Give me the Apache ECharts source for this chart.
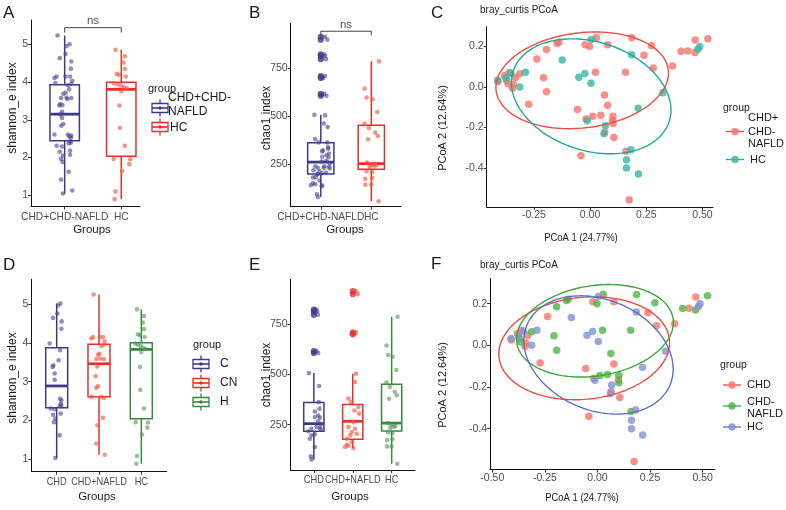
<!DOCTYPE html>
<html><head><meta charset="utf-8">
<script src="https://cdn.jsdelivr.net/npm/echarts@6/dist/echarts.min.js"></script>
<style>html,body{margin:0;padding:0;background:#fff}#c{width:786px;height:510px}</style>
</head><body><div id="c"></div>
<script>
// ================= DATA =================
const groupsAB = ['CHD+CHD-NAFLD', 'HC'];
const groupsDE = ['CHD', 'CHD+NAFLD', 'HC'];

// shannon_e index (individual samples)
const shannonCHD = [5.01,4.96,4.75,4.64,4.55,4.36,3.98,3.81,3.55,3.42,3.38,3.21,3.05,2.56,2.52,2.43,2.37,2.39,2.31,2.29,2.15,2.18,1.96,2.05,1.62,1.04];
const shannonCHDjit = [0.087,0.032,0.016,-0.087,0.118,0.110,-0.165,0.079,0.047,-0.079,-0.095,-0.047,-0.047,0.079,0.110,0.095,0.071,0.110,-0.142,-0.047,-0.087,0.095,-0.063,-0.032,0.071,-0.032];
const shannonCN = [5.24,4.15,4.11,4.15,4.15,4.04,3.95,3.92,3.69,3.72,3.58,3.59,3.58,3.39,3.14,2.89,2.84,2.61,2.61,2.58,2.07,1.88,1.41,1.12];
const shannonCNjit = [-0.126,-0.142,-0.181,0.016,0.095,0.134,0.118,0.055,-0.024,0.016,-0.063,0.032,0.118,-0.04,-0.079,-0.024,-0.063,-0.181,0.055,0.118,0.095,-0.039,-0.063,0.134];
const shannonHC = [4.86,4.69,4.52,4.35,4.22,4.19,4.15,3.98,3.95,3.92,3.87,3.84,3.76,3.38,2.79,2.31,1.96,1.95,1.82,1.64,1.09,0.89];
const shannonHCjit = [-0.102,0.063,0.039,0.063,-0.079,-0.039,0.079,-0.142,-0.079,-0.016,0.039,0.095,0.0,-0.032,-0.024,0.063,-0.134,0.158,0.142,0.016,-0.102,-0.118];

// chao1 index
const chaoCHD = [823,814,798,617,607,507,443,363,330,316,296,288,285,267,252,238,235,230,227,217,202,197,180,139,92,77];
const chaoCHDjit = [0.068,0.085,0.103,0.068,0.111,-0.128,0.137,0.128,0.145,0.026,0.111,0.026,0.154,0.111,0.179,0.068,0.154,-0.06,0.179,-0.145,0.026,-0.06,-0.103,0.026,-0.077,-0.06];
const chaoCN = [915,900,710,700,504,462,380,363,338,321,305,263,238,230,213,205,197,180,164,150,144,134,139];
const chaoCNjit = [0.085,0.128,0.085,0.043,0.085,0.06,-0.111,-0.043,0.145,0.043,0.162,0.017,-0.111,0.06,-0.026,0.103,-0.068,-0.154,-0.026,-0.154,-0.111,0.017,-0.197];
const chaoHC = [787,644,597,588,522,461,438,414,396,379,257,247,240,243,234,212,208,173,177,142,142,55];
const chaoHCjit = [0.152,-0.132,-0.092,0.026,0.119,-0.132,-0.046,0.079,0.132,-0.066,-0.086,0,0.053,0.099,-0.033,-0.092,0.02,-0.119,0.02,-0.119,0,0.145];

// box statistics [min, Q1, median, Q3, max]
const boxShannonAB = [[1.04,2.44,3.15,3.93,5.24],[0.89,2.03,3.81,4.00,4.86]];
const boxChaoAB = [[77,198,260,361,507],[55,222,252,452,787]];
const boxShannonDE = [[1.04,2.33,2.89,3.87,5.01],[1.12,2.61,3.46,3.96,5.24],[0.89,2.05,3.83,4.00,4.86]];
const boxChaoDE = [[77,217,255,360,507],[134,177,267,350,504],[55,219,258,451,787]];

// significance brackets
const sigShannon = {label: 'ns', y: 5.45, drop: 0.13};
const sigChao = {label: 'ns', y: 944, drop: 21};

// PCoA coordinates [PCoA1, PCoA2]
const pcoaCHD = [[-0.41,0.026],[-0.38,0.057],[-0.36,0.072],[-0.332,0.047],[-0.345,-0.006],[-0.341,0.012],[-0.273,-0.085],[-0.237,0.138],[-0.056,-0.111],[-0.018,-0.158],[-0.022,0.209],[0.078,0.209],[0.078,-0.09],[0.065,-0.222],[0.106,-0.25],[0.1,-0.165],[-0.041,-0.34],[0.24,0.157],[0.281,0.094],[0.367,0.104],[0.435,0.178],[0.468,0.232],[0.174,-0.558]];
const pcoaCN = [[-0.313,0.065],[-0.365,0.016],[-0.372,0.035],[-0.194,0.185],[-0.147,0.216],[-0.139,0.221],[-0.207,0.046],[-0.194,-0.024],[0.028,0.245],[-0.002,0.2],[0.024,0.073],[0.064,-0.039],[0.012,-0.145],[0.048,-0.14],[0.102,-0.145],[0.102,-0.18],[0.158,0.073],[0.186,0.244],[0.273,0.205],[0.16,-0.318],[0.405,0.177],[0.467,0.17],[0.524,0.238]];
const pcoaHC = [[-0.411,0.033],[-0.352,0.068],[-0.375,0.045],[-0.288,0.073],[-0.313,0.0],[-0.124,0.134],[-0.05,0.048],[-0.023,0.067],[0.004,0.018],[0.005,0.235],[0.185,0.16],[0.324,-0.028],[0.214,-0.105],[-0.012,-0.167],[0.062,-0.231],[0.068,-0.19],[0.182,-0.31],[0.162,-0.36],[0.162,-0.4],[0.215,-0.43],[0.48,0.187],[0.488,0.2]];

// 95% ellipses [centerX, centerY, sdX, sdY, correlation]
const ellipseCHDall = [-0.035,0.033,0.384,0.239,0.15];
const ellipseCHD = [-0.063,-0.014,0.406,0.247,0.11];
const ellipseCN = [-0.012,0.07,0.373,0.222,0.18];
const ellipseHC = [0.005,-0.046,0.355,0.284,-0.24];

// tick values
const ticksShannon = [1,2,3,4,5];
const ticksChao = [250,500,750];
const ticksPcoaY = [-0.4,-0.2,0,0.2];
const ticksPcoaXC = [-0.25,0,0.25,0.5];
const ticksPcoaXF = [-0.5,-0.25,0,0.25,0.5];

// ================= STYLE =================
const FONT = '"Liberation Sans", Arial, Helvetica, sans-serif';
const COL = {
  purple: '#3E3A8A', purplePt: 'rgba(72,66,142,0.75)',
  red: '#E3302A', redPt: 'rgba(240,88,64,0.8)',
  green: '#36893F', greenPt: 'rgba(84,150,84,0.75)',
  pRed: '#F8766D', pTeal: '#3DB8AA', pGreen: '#55B54A', pBlue: '#8593D6',
  eRed: '#EE4B44', eTeal: '#1FA89E', eGreen: '#39AA36', eBlue: '#5873CC'
};
const BOXW = 0.52;

const chart = echarts.init(document.getElementById('c'), null, {renderer: 'canvas'});

const grids = [
  {left: 31, top: 20, width: 109, height: 186.5},
  {left: 290.7, top: 23.3, width: 110.3, height: 183.4},
  {left: 486.7, top: 26.7, width: 226.3, height: 180.3},
  {left: 31.3, top: 279.3, width: 135.4, height: 192.4},
  {left: 290.5, top: 279.3, width: 124.5, height: 190.7},
  {left: 490, top: 278.3, width: 225, height: 191.2}
].map(g => Object.assign({show: false, containLabel: false, outerBoundsMode: 'none'}, g));

function axisBase(extra) {
  return Object.assign({
    type: 'value',
    axisLine: {show: true, onZero: false, lineStyle: {color: '#111', width: 1}},
    splitLine: {show: false}
  }, extra);
}
function catX(gi, min, max, cats) {
  const vals = cats.map((c, i) => i + 1);
  return axisBase({gridIndex: gi, min, max,
    axisTick: {show: true, length: 3, customValues: vals, lineStyle: {color: '#333'}},
    axisLabel: {show: false}});
}
function valAxis(gi, min, max, ticks, fmt) {
  return axisBase({gridIndex: gi, min, max,
    axisTick: {show: true, length: 3, customValues: ticks, lineStyle: {color: '#333'}},
    axisLabel: {color: '#4D4D4D', fontSize: 10.5, fontFamily: FONT, margin: 3, customValues: ticks,
      showMinLabel: true, showMaxLabel: true, hideOverlap: false,
      formatter: fmt || (v => String(v))}});
}

const xAxes = [
  catX(0, 0.405, 2.331, groupsAB),
  catX(1, 0.404, 2.588, groupsAB),
  valAxis(2, -0.46, 0.547, ticksPcoaXC, v => v.toFixed(2)),
  catX(3, 0.4, 3.6, groupsDE),
  catX(4, 0.4, 3.6, groupsDE),
  valAxis(5, -0.511, 0.559, ticksPcoaXF, v => v.toFixed(2))
];
const yAxes = [
  valAxis(0, 0.694, 5.654, ticksShannon),
  valAxis(1, 26.8, 985.5, ticksChao),
  valAxis(2, -0.593, 0.298, ticksPcoaY, v => v.toFixed(1)),
  valAxis(3, 0.686, 5.632, ticksShannon),
  valAxis(4, 24.4, 974, ticksChao),
  valAxis(5, -0.596, 0.322, ticksPcoaY, v => v.toFixed(1))
];

function boxSeries(gi, stats, colors) {
  return {
    type: 'custom', xAxisIndex: gi, yAxisIndex: gi, z: 2, silent: true, clip: false,
    encode: {x: 0, y: [1, 2, 3, 4, 5]},
    data: stats.map((s, i) => [i + 1].concat(s)),
    renderItem: function (params, api) {
      const x = api.value(0);
      const lo = api.coord([x, api.value(1)]), q1 = api.coord([x, api.value(2)]),
        md = api.coord([x, api.value(3)]), q3 = api.coord([x, api.value(4)]), hi = api.coord([x, api.value(5)]);
      const hw = api.size([BOXW, 0])[0] / 2;
      const c = colors[params.dataIndex];
      return {type: 'group', children: [
        {type: 'line', shape: {x1: lo[0], y1: lo[1], x2: q1[0], y2: q1[1]}, style: {stroke: c, lineWidth: 1.5}},
        {type: 'line', shape: {x1: q3[0], y1: q3[1], x2: hi[0], y2: hi[1]}, style: {stroke: c, lineWidth: 1.5}},
        {type: 'rect', shape: {x: q3[0] - hw, y: q3[1], width: 2 * hw, height: q1[1] - q3[1]}, style: {fill: 'none', stroke: c, lineWidth: 1.5}},
        {type: 'line', shape: {x1: md[0] - hw, y1: md[1], x2: md[0] + hw, y2: md[1]}, style: {stroke: c, lineWidth: 2.8}}
      ]};
    }
  };
}
function jitterSeries(gi, idx, vals, jits, color, size) {
  return {type: 'scatter', xAxisIndex: gi, yAxisIndex: gi, z: 3, silent: true,
    symbolSize: size || 4.6, itemStyle: {color: color},
    data: vals.map((v, i) => [idx + jits[i], v])};
}
function outlierSeries(gi, idx, vals, box, color) {
  return {type: 'scatter', xAxisIndex: gi, yAxisIndex: gi, z: 4, silent: true,
    symbolSize: 6.2, itemStyle: {color: color},
    data: vals.filter(v => v > box[4] || v < box[0]).map(v => [idx, v])};
}
function sigSeries(gi, sig) {
  return [
    {type: 'line', xAxisIndex: gi, yAxisIndex: gi, silent: true, symbol: 'none', z: 5,
      lineStyle: {color: '#444', width: 1},
      data: [[1, sig.y - sig.drop], [1, sig.y], [2, sig.y], [2, sig.y - sig.drop]]},
    {type: 'scatter', xAxisIndex: gi, yAxisIndex: gi, silent: true, symbolSize: 1, z: 5,
      itemStyle: {color: 'rgba(0,0,0,0)'},
      label: {show: true, position: 'top', distance: 0, formatter: sig.label, color: '#222', fontSize: 11.5, fontFamily: FONT},
      data: [[1.5, sig.y]]}
  ];
}
function pointSeries(gi, pts, color) {
  return {type: 'scatter', xAxisIndex: gi, yAxisIndex: gi, z: 3, silent: true,
    symbolSize: 7.5, itemStyle: {color: color, opacity: 0.82}, data: pts};
}
function ellipseSeries(gi, ells, colors) {
  return {type: 'custom', xAxisIndex: gi, yAxisIndex: gi, z: 4, silent: true, clip: false,
    encode: {x: 0, y: 1},
    data: ells,
    renderItem: function (params, api) {
      const cx = api.value(0), cy = api.value(1), sx = api.value(2), sy = api.value(3), r = api.value(4);
      const pts = [];
      const k = Math.sqrt(1 - r * r);
      for (let i = 0; i <= 160; i++) {
        const t = i / 160 * 2 * Math.PI;
        pts.push(api.coord([cx + sx * Math.cos(t), cy + sy * (r * Math.cos(t) + k * Math.sin(t))]));
      }
      return {type: 'polyline', shape: {points: pts}, style: {stroke: colors[params.dataIndex], fill: 'none', lineWidth: 1.4}};
    }
  };
}

const series = [
  // A
  boxSeries(0, boxShannonAB, [COL.purple, COL.red]),
  jitterSeries(0, 1, shannonCHD.concat(shannonCN), shannonCHDjit.concat(shannonCNjit), COL.purplePt),
  jitterSeries(0, 2, shannonHC, shannonHCjit, COL.redPt),
  ...sigSeries(0, sigShannon),
  // B
  boxSeries(1, boxChaoAB, [COL.purple, COL.red]),
  jitterSeries(1, 1, chaoCHD.concat(chaoCN), chaoCHDjit.concat(chaoCNjit), COL.purplePt),
  jitterSeries(1, 2, chaoHC, chaoHCjit, COL.redPt),
  outlierSeries(1, 1, chaoCHD.concat(chaoCN), boxChaoAB[0], COL.purple),
  outlierSeries(1, 2, chaoHC, boxChaoAB[1], COL.red),
  ...sigSeries(1, sigChao),
  // C
  pointSeries(2, pcoaCHD.concat(pcoaCN), COL.pRed),
  pointSeries(2, pcoaHC, COL.pTeal),
  ellipseSeries(2, [ellipseCHDall, ellipseHC], [COL.eRed, COL.eTeal]),
  // D
  boxSeries(3, boxShannonDE, [COL.purple, COL.red, COL.green]),
  jitterSeries(3, 1, shannonCHD, shannonCHDjit, COL.purplePt),
  jitterSeries(3, 2, shannonCN, shannonCNjit, COL.redPt),
  jitterSeries(3, 3, shannonHC, shannonHCjit, COL.greenPt),
  // E
  boxSeries(4, boxChaoDE, [COL.purple, COL.red, COL.green]),
  jitterSeries(4, 1, chaoCHD, chaoCHDjit, COL.purplePt),
  jitterSeries(4, 2, chaoCN, chaoCNjit, COL.redPt),
  jitterSeries(4, 3, chaoHC, chaoHCjit, COL.greenPt),
  outlierSeries(4, 1, chaoCHD, boxChaoDE[0], COL.purple),
  outlierSeries(4, 2, chaoCN, boxChaoDE[1], COL.red),
  outlierSeries(4, 3, chaoHC, boxChaoDE[2], COL.green),
  // F
  pointSeries(5, pcoaCHD, COL.pRed),
  pointSeries(5, pcoaCN, COL.pGreen),
  pointSeries(5, pcoaHC, COL.pBlue),
  ellipseSeries(5, [ellipseCHD, ellipseCN, ellipseHC], [COL.eRed, COL.eGreen, COL.eBlue])
];

// ================= ANNOTATIONS (text, legends) =================
function txt(x, y, s, size, opt) {
  opt = opt || {};
  return {type: 'text', x: x, y: y, rotation: opt.rot || 0, scaleX: opt.sx || 1, silent: true, z: 10,
    style: {text: s, fontSize: size, fontFamily: FONT, fill: opt.fill || '#1a1a1a',
      align: opt.align || 'left', verticalAlign: opt.va || 'middle'}};
}
function boxKey(cx, cy, color) {
  return {type: 'group', silent: true, z: 10, children: [
    {type: 'line', shape: {x1: cx, y1: cy - 8.5, x2: cx, y2: cy + 8.5}, style: {stroke: color, lineWidth: 1.3}},
    {type: 'rect', shape: {x: cx - 8, y: cy - 4.5, width: 16, height: 9}, style: {fill: '#fff', stroke: color, lineWidth: 1.3}},
    {type: 'line', shape: {x1: cx - 8, y1: cy, x2: cx + 8, y2: cy}, style: {stroke: color, lineWidth: 1.6}},
    {type: 'circle', shape: {cx: cx, cy: cy, r: 1.8}, style: {fill: color}}
  ]};
}
function ptKey(cx, cy, color, lc) {
  return {type: 'group', silent: true, z: 10, children: [
    {type: 'line', shape: {x1: cx - 9, y1: cy, x2: cx + 9, y2: cy}, style: {stroke: lc, lineWidth: 1.3}},
    {type: 'circle', shape: {cx: cx, cy: cy, r: 3.7}, style: {fill: color, opacity: 0.85}}
  ]};
}

const graphics = [
  // panel letters
  txt(3, 13, 'A', 17), txt(249, 13, 'B', 17), txt(431, 13, 'C', 17),
  txt(3, 265, 'D', 17), txt(249, 265, 'E', 17), txt(431, 264, 'F', 17),
  // PCoA titles
  txt(480, 10, 'bray_curtis PCoA', 10), txt(480, 265, 'bray_curtis PCoA', 10),
  // axis titles
  txt(13, 108, 'shannon_e index', 12, {rot: Math.PI / 2, align: 'center'}),
  txt(267, 118, 'chao1 index', 12, {rot: Math.PI / 2, align: 'center'}),
  txt(443, 128, 'PCoA 2 (12.64%)', 11, {rot: Math.PI / 2, align: 'center'}),
  txt(13, 378, 'shannon_e index', 12, {rot: Math.PI / 2, align: 'center'}),
  txt(267, 375, 'chao1 index', 12, {rot: Math.PI / 2, align: 'center'}),
  txt(443, 385, 'PCoA 2 (12.64%)', 11, {rot: Math.PI / 2, align: 'center'}),
  txt(92, 230, 'Groups', 11.5, {align: 'center'}),
  txt(345, 230, 'Groups', 11.5, {align: 'center'}),
  txt(581, 238, 'PCoA 1 (24.77%)', 10.5, {align: 'center', sx: 0.9}),
  txt(97, 497, 'Groups', 11.5, {align: 'center'}),
  txt(350, 497, 'Groups', 11.5, {align: 'center'}),
  txt(582, 498, 'PCoA 1 (24.77%)', 10.5, {align: 'center', sx: 0.9}),
  // legend A
  txt(148, 89, 'group', 11),
  boxKey(160, 108, COL.purple), boxKey(160, 127, COL.red),
  txt(168, 98, 'CHD+CHD-', 12), txt(168, 112, 'NAFLD', 12), txt(170, 128, 'HC', 12),
  // legend C
  txt(723, 108, 'group', 10.5),
  txt(748, 118, 'CHD+', 11), txt(748, 131.5, 'CHD-', 11), txt(748, 144, 'NAFLD', 11), txt(750, 159.5, 'HC', 11),
  ptKey(735, 131.5, COL.pRed, COL.eRed), ptKey(735, 159.5, COL.pTeal, COL.eTeal),
  // legend D
  txt(193, 345, 'group', 11),
  boxKey(201, 364, COL.purple), boxKey(201, 383, COL.red), boxKey(201, 402, COL.green),
  txt(220, 364, 'C', 12), txt(220, 383, 'CN', 12), txt(220, 402, 'H', 12),
  // legend F
  txt(720, 365, 'group', 10.5),
  ptKey(732, 385, COL.pRed, COL.eRed), ptKey(732, 406, COL.pGreen, COL.eGreen), ptKey(732, 427, COL.pBlue, COL.eBlue),
  txt(747, 385, 'CHD', 11), txt(747, 401.5, 'CHD-', 11), txt(747, 413.5, 'NAFLD', 11), txt(747, 427, 'HC', 11)
];

chart.setOption({
  animation: false,
  backgroundColor: '#fff',
  textStyle: {fontFamily: FONT},
  grid: grids,
  xAxis: xAxes,
  yAxis: yAxes,
  series: series
});

// category tick labels, placed at the axis positions given by the chart's own scales
const catLabelSpecs = [[0, groupsAB, 0.93], [1, groupsAB, 0.93], [3, groupsDE, 0.84], [4, groupsDE, 0.84]];
const catLabels = [];
catLabelSpecs.forEach(([gi, cats, sx]) => {
  cats.forEach((c, i) => {
    const p = chart.convertToPixel({gridIndex: gi}, [i + 1, yAxes[gi].min]);
    catLabels.push(txt(p[0], p[1] + 4.5, c, 11, {align: 'center', va: 'top', sx: sx, fill: '#4D4D4D'}));
  });
});

chart.setOption({graphic: {elements: graphics.concat(catLabels)}});
</script>
</body></html>
